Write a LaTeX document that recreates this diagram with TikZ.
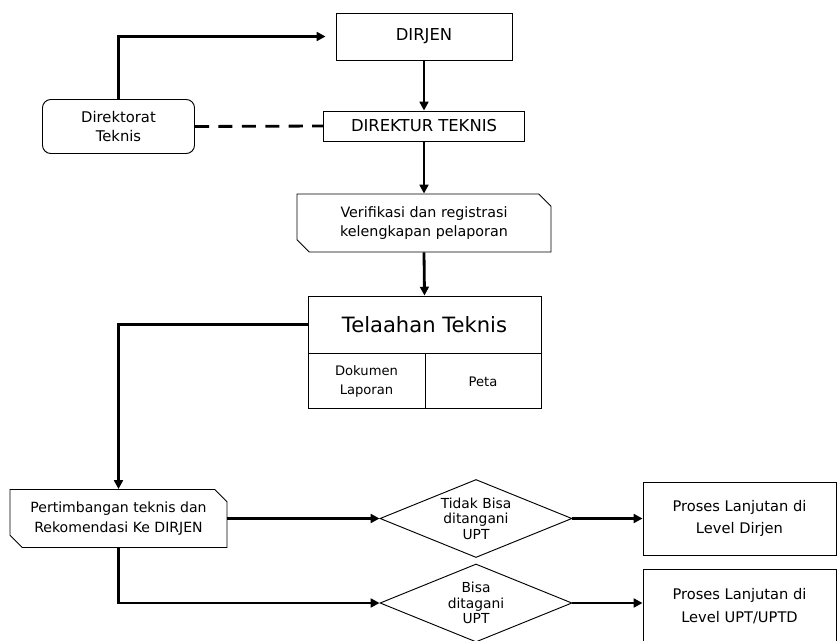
\documentclass[tikz,border=0pt]{standalone}
\usepackage{fontspec}
\setmainfont{DejaVu Sans}
\usetikzlibrary{arrows.meta,shapes.geometric,shapes.misc}

\begin{document}
\begin{tikzpicture}[x=0.03cm,y=-0.03cm,
  box/.style={draw, line width=0.8pt, inner sep=0pt, align=center, font=\fontsize{12}{16.5}\selectfont},
  cutbox/.style={box, chamfered rectangle, chamfered rectangle corners={north east,south west}, chamfered rectangle xsep=0.24cm},
  choice/.style={box, diamond, shape aspect=2.46, minimum width=5.76cm, minimum height=2.34cm, font=\fontsize{11.8}{13.2}\selectfont},
  flow/.style={line width=2.4pt, -{Triangle[length=7.5pt,width=7.5pt]}},
  link/.style={line width=2.4pt}]

\useasboundingbox (0,0) rectangle (837,640);
\clip (0,0) rectangle (837,640);

% Top part
\node [box, minimum width=5.28cm, minimum height=1.41cm, font=\fontsize{14}{17}\selectfont] (dirjen) at (424,36.5) {DIRJEN};
\node [box, rounded corners=0.25cm, minimum width=4.56cm, minimum height=1.62cm, font=\fontsize{12.6}{17}\selectfont] (dirtek) at (118.5,126.5) {Direktorat\\Teknis};
\node [box, minimum width=6.03cm, minimum height=0.9cm, font=\fontsize{14}{17}\selectfont] (direktur) at (424,126) {DIREKTUR TEKNIS};

\draw [flow, shorten >=0.3cm] (dirtek.north) |- (dirjen.west);
\draw [flow] (dirjen.south) -- (direktur.north);
\draw [link, dash pattern=on 12pt off 8pt] (dirtek.east) -- (direktur.west);

% Verifikasi
\node [cutbox, minimum width=7.62cm, minimum height=1.74cm, font=\fontsize{12.2}{15.5}\selectfont] (verif) at (424,223) {Verifikasi dan registrasi\\kelengkapan pelaporan};
\draw [flow] (direktur.south) -- (verif.north);

% Telaahan
\node [box, minimum width=6.99cm, minimum height=1.71cm, font=\fontsize{18}{20}\selectfont] (telaah) at (424.5,324.5) {Telaahan Teknis};
\node [box, anchor=north west, minimum width=3.51cm, minimum height=1.65cm, font=\fontsize{11.2}{16}\selectfont] (dokumen) at (telaah.south west) {Dokumen\\Laporan};
\node [box, anchor=north east, minimum width=3.48cm, minimum height=1.65cm, font=\fontsize{11.2}{16}\selectfont] (peta) at (telaah.south east) {Peta};
\draw [flow] (verif.south) -- (telaah.north);

% Pertimbangan
\node [cutbox, minimum width=6.51cm, minimum height=1.74cm] (pert) at (118.5,518.5) {Pertimbangan teknis dan\\Rekomendasi Ke DIRJEN};
\draw [flow] (telaah.west) -| (pert.north);

% Keputusan
\node [choice] (tidak) at (476,518.5) {Tidak Bisa\\ditangani\\UPT};
\node [choice] (bisa) at (476,603) {Bisa\\ditagani\\UPT};
\draw [flow] (pert.east) -- (tidak.west);
\draw [flow] (pert.south) |- (bisa.west);

\node [box, minimum width=5.79cm, minimum height=2.19cm, font=\fontsize{12.5}{19}\selectfont] (lanjut1) at (739.5,518.5) {Proses Lanjutan di\\Level Dirjen};
\node [box, minimum width=5.79cm, minimum height=2.19cm, font=\fontsize{12.5}{19}\selectfont] (lanjut2) at (739.5,606) {Proses Lanjutan di\\Level UPT/UPTD};
\draw [flow] (tidak.east) -- (lanjut1.west);
\draw [flow] (bisa.east) -- (bisa.east -| lanjut2.west);
\end{tikzpicture}
\end{document}
